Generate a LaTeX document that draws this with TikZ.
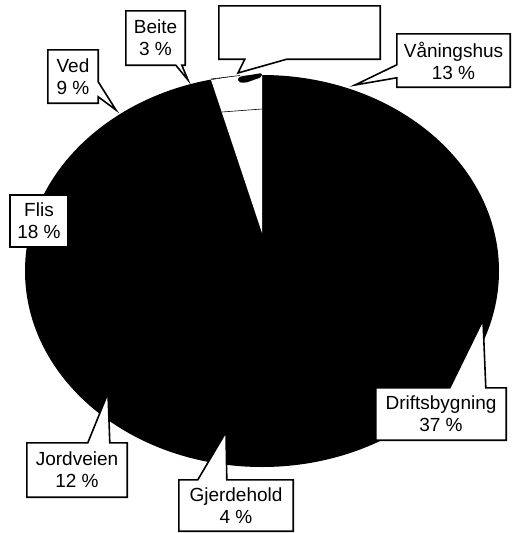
\documentclass[tikz,border=0pt]{standalone}
\usepackage{fontspec}
\setmainfont{Liberation Sans}
\usetikzlibrary{calc}
\pgfdeclarelayer{background}
\pgfdeclarelayer{foreground}
\pgfsetlayers{background,main,foreground}
\tikzstyle{pieLabel}=[inner sep=0pt, align=center, text centered,
	font=\fontsize{19}{22}\selectfont]
\tikzstyle{bubble}=[draw, fill=white, line width=1.6pt, line join=miter]
\tikzstyle{edge}=[draw, line width=0.6pt]
\newcommand{\pieNode}[4]{node (#1) [pieLabel, minimum width=#2, minimum height=#3]
	{#4}}
% pointer leaves the box on the top side
\newcommand{\bubbleTop}[4]{%
	\path[bubble] (#1.north west) -- ([xshift=#2]#1.north west) -- (#4)
		-- ([xshift=#3]#1.north west) -- (#1.north east) |- (#1.south west) -- cycle;}
% pointer leaves the box on the bottom side
\newcommand{\bubbleBottom}[4]{%
	\path[bubble] (#1.south west) -- ([xshift=#2]#1.south west) -- (#4)
		-- ([xshift=#3]#1.south west) -- (#1.south east) |- (#1.north west) -- cycle;}
% pointer leaves the box on the right side
\newcommand{\bubbleRight}[4]{%
	\path[bubble] (#1.north east) -- ([yshift=-#2]#1.north east) -- (#4)
		-- ([yshift=-#3]#1.north east) -- (#1.south east) -| (#1.north west) -- cycle;}
% pointer leaves the box on the left side
\newcommand{\bubbleLeft}[4]{%
	\path[bubble] (#1.north west) -- ([yshift=-#2]#1.north west) -- (#4)
		-- ([yshift=-#3]#1.north west) -- (#1.south west) -| (#1.north east) -- cycle;}

\begin{document}
\begin{tikzpicture}[x=1pt, y=-1pt]
	\useasboundingbox (0,0) rectangle (512,533);

	% Pie
	\begin{pgfonlayer}{background}
		\fill[black] (262,271) ellipse [x radius=237, y radius=196];
		\fill[white] (262,233) -- (211,80) -- (238,75.5) -- (262,75) -- cycle;
		\path[edge] (211,79) -- (240,75.5);
		\path[edge] (222,112) -- (262,109);
		\fill[black, rounded corners=2pt] (238,77) -- (262,73) -- (262,77)
			-- (245,83) -- (238,82) -- cycle;
	\end{pgfonlayer}

	% Pointer tips
	\coordinate (tipE) at (238,73);
	\coordinate (tipB) at (188,80);
	\coordinate (tipV) at (116,110);
	\coordinate (tipW) at (355,85);
	\coordinate (tipJ) at (108,393);
	\coordinate (tipG) at (226,432);
	\coordinate (tipD) at (483,320);

	% Labels
	\begin{pgfonlayer}{foreground}
		\path (299.5,32.5) \pieNode{e}{161}{53}{};
		\path (155.5,38) \pieNode{b}{59}{54}{Beite\\ 3 \%};
		\path (73,76.5) \pieNode{v}{50}{53}{Ved\\ 9 \%};
		\path (453.5,60.5) \pieNode{w}{113}{53}{Våningshus\\ 13 \%};
		\path (39,221) \pieNode{f}{58}{52}{Flis\\ 18 \%};
		\path (77,470) \pieNode{j}{100}{54}{Jordveien\\ 12 \%};
		\path (236,505.5) \pieNode{g}{114}{51}{Gjerdehold\\ 4 \%};
		\path (441,414) \pieNode{d}{130}{52}{Driftsbygning\\ 37 \%};
	\end{pgfonlayer}

	% Callout boxes
	\bubbleBottom{e}{26}{68}{tipE}
	\bubbleBottom{b}{50}{56}{tipB}
	\bubbleRight{v}{32}{47}{tipV}
	\bubbleLeft{w}{31}{44}{tipW}
	\path[bubble] (f.north west) rectangle (f.south east);
	\bubbleTop{j}{61}{83}{tipJ}
	\bubbleTop{g}{19}{48}{tipG}
	\bubbleTop{d}{74}{110}{tipD}

\end{tikzpicture}
\end{document}
